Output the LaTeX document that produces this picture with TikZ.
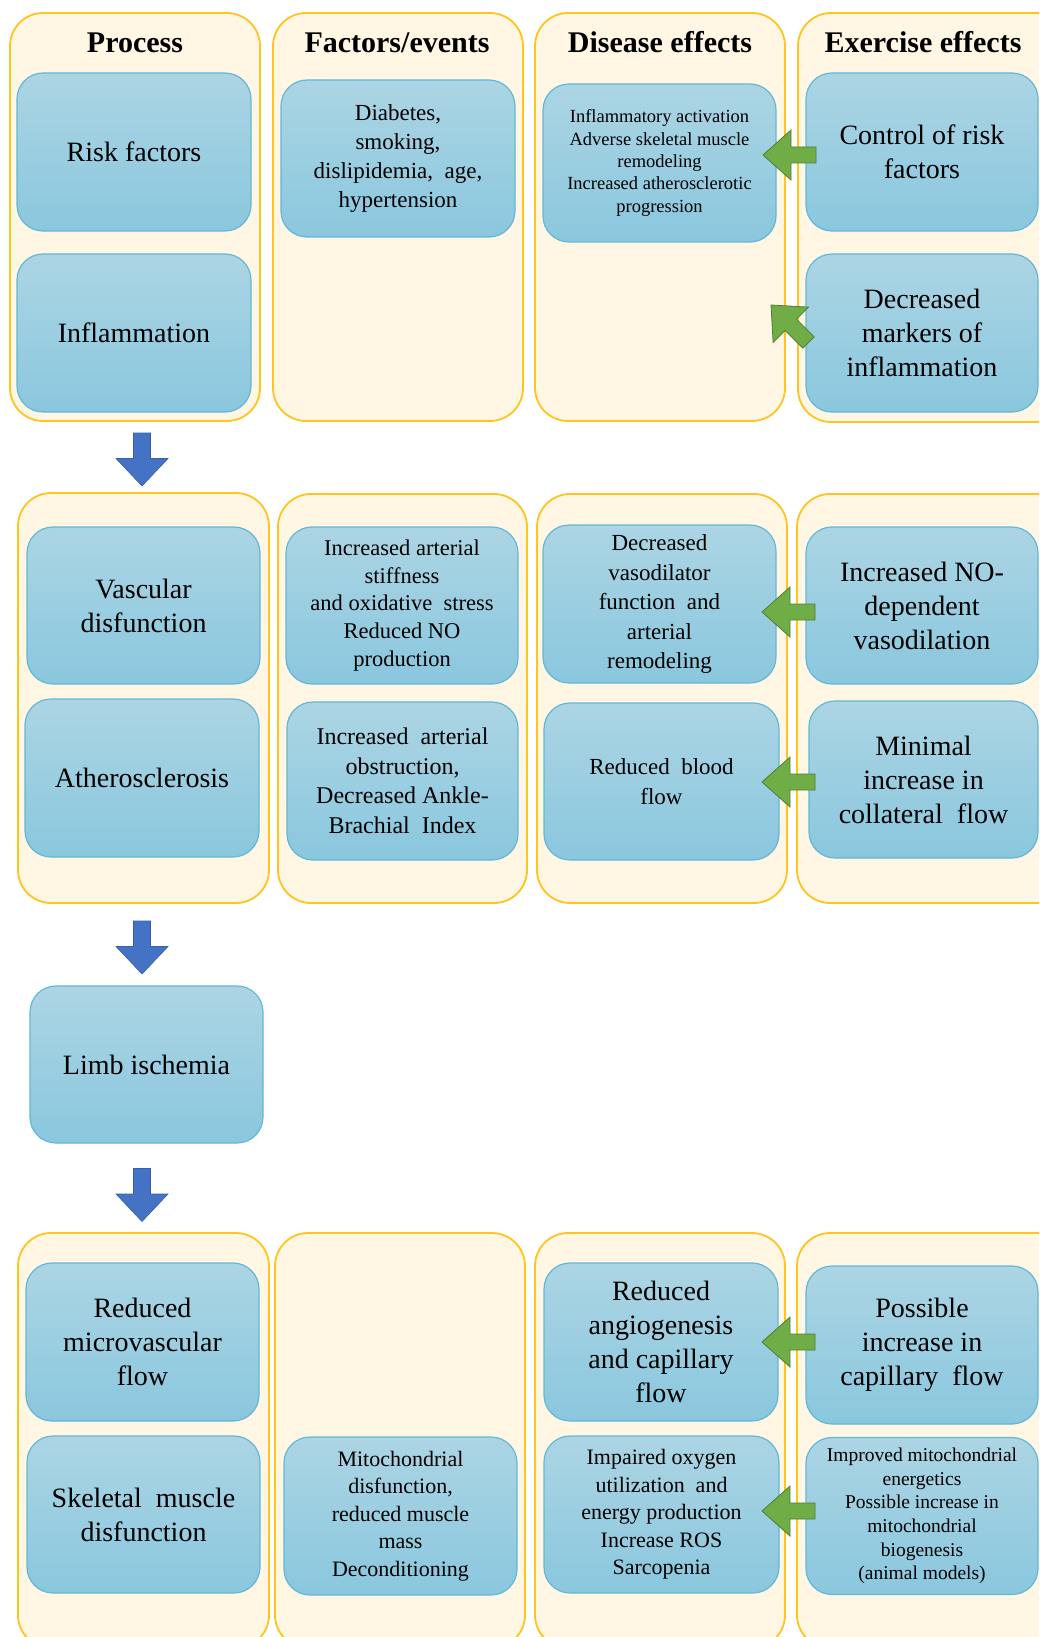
\documentclass[tikz,border=0pt]{standalone}
\usepackage{fontspec}
\setmainfont{Liberation Serif}
\definecolor{panelfill}{RGB}{255,247,228}
\definecolor{paneledge}{RGB}{255,196,30}
\definecolor{boxtop}{RGB}{172,213,228}
\definecolor{boxbot}{RGB}{138,199,222}
\definecolor{boxedge}{RGB}{98,184,214}
\definecolor{arrblue}{RGB}{68,114,196}
\definecolor{arrblueedge}{RGB}{55,95,170}
\definecolor{arrgreen}{RGB}{112,173,71}
\definecolor{arrgreenedge}{RGB}{80,126,50}
\tikzset{
  panel/.style={draw=paneledge, fill=panelfill, line width=1.8pt, rounded corners=33pt},
  bbox/.style={draw=boxedge, line width=1.2pt, rounded corners=26pt,
    top color=boxtop, bottom color=boxbot, align=center, inner sep=2pt, text=black},
  coltitle/.style={font=\fontsize{30}{34}\selectfont\bfseries, anchor=base},
  bigtxt/.style={font=\fontsize{28}{34}\selectfont},
  darrow/.pic={\draw[fill=arrblue, draw=arrblueedge, line width=0.6pt, line join=miter]
     (-8.5,-26.5) -- (8.5,-26.5) -- (8.5,-1) -- (26,-1) -- (0,26.5) -- (-26,-1) -- (-8.5,-1) -- cycle;},
  garrow/.pic={\draw[fill=arrgreen, draw=arrgreenedge, line width=0.8pt, line join=miter]
     (0,0) -- (28,-25) -- (28,-8) -- (53,-8) -- (53,8) -- (28,8) -- (28,25) -- cycle;}
}
\begin{document}
\begin{tikzpicture}[x=1pt,y=-1pt]
\useasboundingbox (0,0) rectangle (1039,1637);
\clip (0,0) rectangle (1039,1637);
\fill[white] (0,0) rectangle (1039,1637);

% panels row 1
\draw[panel] (10,13) rectangle (260,421);
\draw[panel] (273,13) rectangle (523,421);
\draw[panel] (535,13) rectangle (785,421);
\draw[panel] (798,13) rectangle (1075,422);
% panels row 2
\draw[panel] (18,493) rectangle (269,903);
\draw[panel] (278,494) rectangle (527,903);
\draw[panel] (537,494) rectangle (787,903);
\draw[panel] (797,494) rectangle (1075,903);
% panels row 4
\draw[panel] (18,1233) rectangle (269,1648);
\draw[panel] (275,1233) rectangle (525,1648);
\draw[panel] (535,1233) rectangle (785,1648);
\draw[panel] (797,1233) rectangle (1075,1648);

% titles
\node[coltitle] (t1) at (135,52.5) {Process};
\node[coltitle] (t2) at (397,52.5) {Factors/events};
\node[coltitle] (t3) at (660,52.5) {Disease effects};
\node[coltitle] (t4) at (923,52.5) {Exercise effects};

% row 1 boxes
\node[bbox, bigtxt, minimum width=234pt, minimum height=158pt] (risk) at (134,152) {Risk factors};
\node[bbox, bigtxt, minimum width=234pt, minimum height=158pt] (infl) at (134,333) {Inflammation};
\node[bbox, font=\fontsize{23}{29}\selectfont, minimum width=234pt, minimum height=157pt] (diab) at (398,158.5)
  {Diabetes,\\ smoking,\\ dislipidemia,~ age,\\ hypertension};
\node[bbox, font=\fontsize{18.5}{22.3}\selectfont, minimum width=233pt, minimum height=158pt] (inflact) at (659.5,163)
  {Inflammatory activation\\ Adverse skeletal muscle\\ remodeling\\ Increased atherosclerotic\\ progression};
\node[bbox, bigtxt, minimum width=232pt, minimum height=158pt] (control) at (922,152) {Control of risk\\ factors};
\node[bbox, bigtxt, minimum width=232pt, minimum height=158pt] (decmark) at (922,333) {Decreased\\ markers of\\ inflammation};

% row 2 boxes
\node[bbox, bigtxt, minimum width=233pt, minimum height=157pt] (vasc) at (143.5,605.5) {Vascular\\ disfunction};
\node[bbox, bigtxt, minimum width=234pt, minimum height=158pt] (athero) at (142,778) {Atherosclerosis};
\node[bbox, font=\fontsize{22.5}{27.6}\selectfont, minimum width=232pt, minimum height=157pt] (stiff) at (402,605.5)
  {Increased arterial\\ stiffness\\ and oxidative~ stress\\ Reduced NO\\ production};
\node[bbox, font=\fontsize{24}{29.5}\selectfont, minimum width=231pt, minimum height=158pt] (obstr) at (402.5,781)
  {Increased~ arterial\\ obstruction,\\ Decreased Ankle-\\ Brachial~ Index};
\node[bbox, font=\fontsize{23}{29.5}\selectfont, minimum width=233pt, minimum height=158pt] (vasodil) at (659.5,604)
  {Decreased\\ vasodilator\\ function~ and\\ arterial\\ remodeling};
\node[bbox, font=\fontsize{23}{30}\selectfont, minimum width=235pt, minimum height=157pt] (blood) at (661.5,781.5)
  {Reduced~ blood\\ flow};
\node[bbox, bigtxt, minimum width=232pt, minimum height=157pt] (nodep) at (922,605.5) {Increased NO-\\ dependent\\ vasodilation};
\node[bbox, bigtxt, minimum width=229pt, minimum height=157pt] (minimal) at (923.5,779.5) {Minimal\\ increase in\\ collateral~ flow};

% row 3
\node[bbox, bigtxt, minimum width=233pt, minimum height=157pt] (limb) at (146.5,1064.5) {Limb ischemia};

% row 4 boxes
\node[bbox, bigtxt, minimum width=233pt, minimum height=158pt] (micro) at (142.5,1342) {Reduced\\ microvascular\\ flow};
\node[bbox, bigtxt, minimum width=233pt, minimum height=157pt] (skel) at (143.5,1514.5) {Skeletal~ muscle\\ disfunction};
\node[bbox, font=\fontsize{22}{27.5}\selectfont, minimum width=233pt, minimum height=158pt] (mito) at (400.5,1516)
  {Mitochondrial\\ disfunction,\\ reduced muscle\\ mass\\ Deconditioning};
\node[bbox, bigtxt, minimum width=234pt, minimum height=158pt] (angio) at (661,1342) {Reduced\\ angiogenesis\\ and capillary\\ flow};
\node[bbox, font=\fontsize{22}{27.5}\selectfont, minimum width=235pt, minimum height=157pt] (impaired) at (661.5,1514.5)
  {Impaired oxygen\\ utilization~ and\\ energy production\\ Increase ROS\\ Sarcopenia};
\node[bbox, bigtxt, minimum width=232pt, minimum height=158pt] (possible) at (922,1345) {Possible\\ increase in\\ capillary~ flow};
\node[bbox, font=\fontsize{19.5}{23.6}\selectfont, minimum width=232pt, minimum height=157pt] (improved) at (922,1516)
  {Improved mitochondrial\\ energetics\\ Possible increase in\\ mitochondrial\\ biogenesis\\ (animal models)};

% blue process arrows
\coordinate (da1) at (142,459.5);
\coordinate (da2) at (142,947.5);
\coordinate (da3) at (142,1195);
\pic at (da1) {darrow};
\pic at (da2) {darrow};
\pic at (da3) {darrow};

% green exercise arrows (tip positions)
\coordinate (ga1) at (763,155);
\coordinate (ga2) at (771,305);
\coordinate (ga3) at (762,612);
\coordinate (ga4) at (762,782);
\coordinate (ga5) at (762,1342);
\coordinate (ga6) at (762,1511);
\pic at (ga1) {garrow};
\pic[rotate=-45] at (ga2) {garrow};
\pic at (ga3) {garrow};
\pic at (ga4) {garrow};
\pic at (ga5) {garrow};
\pic at (ga6) {garrow};
\end{tikzpicture}
\end{document}
